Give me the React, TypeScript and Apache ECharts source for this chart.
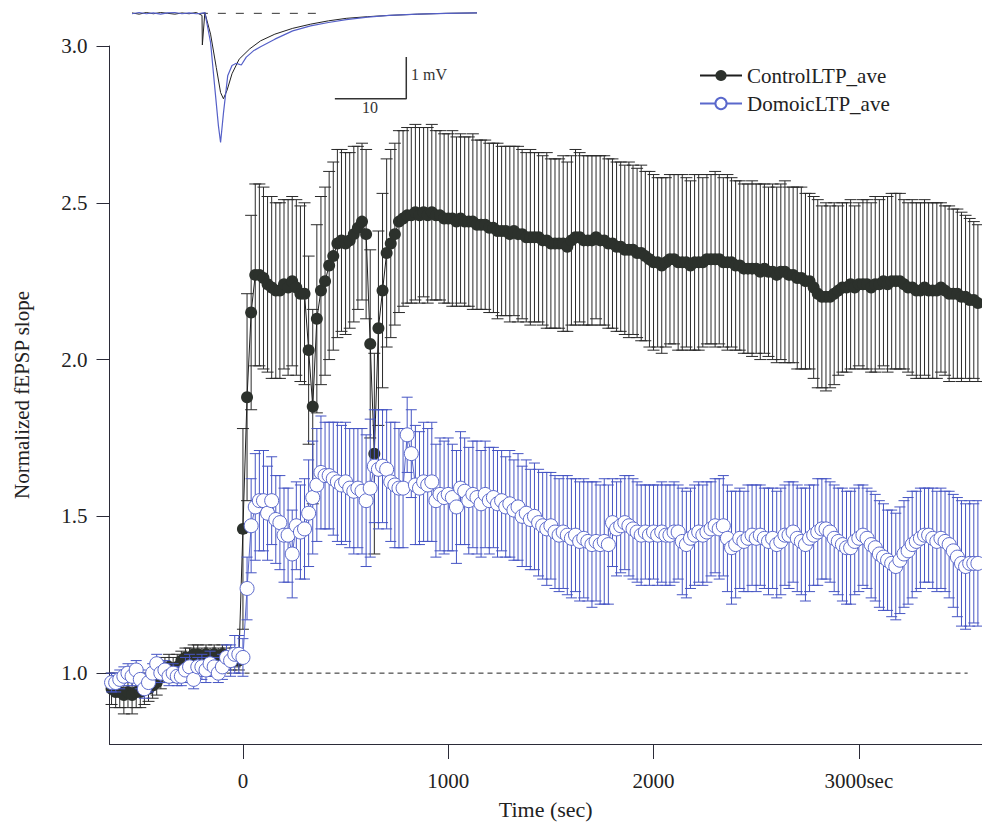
import React, { useEffect, useRef } from "react";
import * as echarts from "echarts";

// ---- sampling grid (sec) ----
const START_T = -640;
const STEP_T = 20;

// ---- ControlLTP_ave ----
const CTRL_BASE_MEAN = [
  0.95, 0.94, 0.94, 0.93, 0.94, 0.93, 0.94, 0.94, 0.95, 0.95,
  0.96, 0.97, 0.99, 1.01, 1.02, 1.01, 1.02, 1.04, 1.05, 1.05,
  1.06, 1.06, 1.05, 1.06, 1.05, 1.06, 1.05, 1.06, 1.05, 1.04,
  1.05, 1.04,
];
const CTRL_BASE_SEM = [
  0.05, 0.05, 0.05, 0.06, 0.05, 0.06, 0.05, 0.05, 0.05, 0.04,
  0.04, 0.04, 0.04, 0.04, 0.04, 0.04, 0.04, 0.03, 0.03, 0.03,
  0.03, 0.03, 0.03, 0.03, 0.03, 0.03, 0.03, 0.03, 0.03, 0.03,
  0.03, 0.03,
];
const CTRL_POST_MEAN = [
  1.46, 1.88, 2.15, 2.27, 2.27, 2.26, 2.24, 2.23, 2.22, 2.22,
  2.24, 2.23, 2.25, 2.23, 2.21, 2.21, 2.03, 1.85, 2.13, 2.22,
  2.25, 2.30, 2.33, 2.37, 2.38, 2.37, 2.38, 2.40, 2.42, 2.44,
  2.40, 2.05, 1.70, 2.10, 2.22, 2.34, 2.37, 2.40, 2.44, 2.45,
  2.46, 2.46, 2.47, 2.46, 2.47, 2.46, 2.47, 2.46, 2.46, 2.45,
  2.45, 2.45, 2.44, 2.45, 2.44, 2.44, 2.44, 2.43, 2.43, 2.43,
  2.42, 2.42, 2.41, 2.41, 2.41, 2.40, 2.41, 2.40, 2.40, 2.39,
  2.39, 2.39, 2.39, 2.38, 2.38, 2.37, 2.37, 2.37, 2.37, 2.36,
  2.38, 2.39, 2.39, 2.38, 2.38, 2.38, 2.39, 2.38, 2.38, 2.37,
  2.37, 2.36, 2.36, 2.35, 2.35, 2.35, 2.34, 2.34, 2.33, 2.32,
  2.31, 2.31, 2.30, 2.31, 2.32, 2.32, 2.31, 2.31, 2.31, 2.30,
  2.31, 2.31, 2.31, 2.32, 2.32, 2.32, 2.32, 2.31, 2.31, 2.31,
  2.30, 2.30, 2.29, 2.29, 2.29, 2.29, 2.28, 2.29, 2.28, 2.28,
  2.27, 2.28, 2.28, 2.27, 2.27, 2.26, 2.26, 2.25, 2.25, 2.23,
  2.21, 2.20, 2.20, 2.20, 2.21, 2.22, 2.23, 2.23, 2.24, 2.23,
  2.24, 2.24, 2.24, 2.23, 2.24, 2.24, 2.25, 2.24, 2.25, 2.25,
  2.25, 2.24, 2.23, 2.23, 2.22, 2.22, 2.23, 2.22, 2.22, 2.22,
  2.23, 2.22, 2.21, 2.21, 2.21, 2.20, 2.20, 2.19, 2.19, 2.18,
];
const CTRL_POST_SEM = [
  0.32, 0.33, 0.31, 0.29, 0.29, 0.29, 0.28, 0.29, 0.28, 0.28,
  0.27, 0.28, 0.27, 0.28, 0.28, 0.29, 0.30, 0.31, 0.30, 0.30,
  0.30, 0.30, 0.30, 0.30, 0.29, 0.29, 0.28, 0.28, 0.26, 0.25,
  0.27, 0.30, 0.32, 0.31, 0.31, 0.30, 0.30, 0.29, 0.29, 0.28,
  0.28, 0.28, 0.28, 0.28, 0.27, 0.28, 0.28, 0.27, 0.27, 0.27,
  0.27, 0.28, 0.27, 0.27, 0.27, 0.27, 0.28, 0.27, 0.27, 0.27,
  0.27, 0.27, 0.28, 0.27, 0.27, 0.28, 0.27, 0.28, 0.27, 0.27,
  0.28, 0.27, 0.27, 0.27, 0.28, 0.27, 0.27, 0.27, 0.28, 0.27,
  0.27, 0.28, 0.27, 0.27, 0.27, 0.27, 0.26, 0.27, 0.27, 0.27,
  0.27, 0.27, 0.27, 0.27, 0.28, 0.27, 0.27, 0.28, 0.27, 0.28,
  0.28, 0.27, 0.28, 0.27, 0.27, 0.27, 0.28, 0.28, 0.27, 0.27,
  0.28, 0.28, 0.27, 0.27, 0.27, 0.28, 0.27, 0.27, 0.28, 0.27,
  0.27, 0.27, 0.27, 0.27, 0.28, 0.27, 0.28, 0.27, 0.27, 0.28,
  0.28, 0.28, 0.29, 0.28, 0.28, 0.29, 0.29, 0.28, 0.28, 0.29,
  0.30, 0.29, 0.30, 0.29, 0.29, 0.27, 0.27, 0.27, 0.27, 0.26,
  0.26, 0.27, 0.27, 0.27, 0.28, 0.27, 0.27, 0.28, 0.28, 0.28,
  0.28, 0.27, 0.27, 0.28, 0.28, 0.28, 0.28, 0.28, 0.28, 0.28,
  0.27, 0.27, 0.28, 0.27, 0.27, 0.27, 0.26, 0.26, 0.25, 0.25,
];

// ---- DomoicLTP_ave ----
const DOM_BASE_MEAN = [
  0.97, 0.97, 0.98, 0.99, 1.00, 0.99, 1.01, 0.98, 0.95, 0.97,
  1.00, 1.03, 1.00, 1.01, 0.99, 1.00, 0.99, 0.99, 1.01, 1.02,
  0.98, 1.02, 1.02, 1.01, 1.03, 1.02, 1.00, 1.02, 1.05, 1.04,
  1.06, 1.06,
];
const DOM_BASE_SEM = [
  0.03, 0.03, 0.03, 0.03, 0.03, 0.03, 0.03, 0.03, 0.03, 0.03,
  0.03, 0.03, 0.03, 0.03, 0.03, 0.03, 0.03, 0.03, 0.04, 0.04,
  0.03, 0.03, 0.04, 0.04, 0.04, 0.03, 0.03, 0.04, 0.04, 0.05,
  0.06, 0.06,
];
const DOM_POST_MEAN = [
  1.05, 1.27, 1.47, 1.53, 1.55, 1.55, 1.51, 1.55, 1.49, 1.48,
  1.44, 1.44, 1.38, 1.47, 1.45, 1.46, 1.51, 1.56, 1.60, 1.64,
  1.63, 1.63, 1.62, 1.61, 1.60, 1.61, 1.59, 1.58, 1.59, 1.58,
  1.55, 1.59, 1.66, 1.65, 1.66, 1.65, 1.61, 1.60, 1.59, 1.59,
  1.76, 1.70, 1.60, 1.59, 1.61, 1.60, 1.61, 1.55, 1.57, 1.56,
  1.57, 1.56, 1.53, 1.59, 1.58, 1.55, 1.57, 1.56, 1.54, 1.57,
  1.55, 1.56, 1.54, 1.55, 1.53, 1.54, 1.52, 1.53, 1.50, 1.51,
  1.49, 1.50, 1.48, 1.47, 1.46, 1.47, 1.45, 1.44, 1.45, 1.44,
  1.43, 1.44, 1.42, 1.43, 1.42, 1.41, 1.42, 1.41, 1.42, 1.41,
  1.48, 1.46, 1.47, 1.48, 1.47, 1.46, 1.45, 1.44, 1.45, 1.44,
  1.45, 1.44, 1.45, 1.44, 1.44, 1.45, 1.45, 1.42, 1.41, 1.43,
  1.44, 1.45, 1.44, 1.45, 1.46, 1.47, 1.46, 1.47, 1.43, 1.40,
  1.41, 1.43, 1.42, 1.43, 1.44, 1.43, 1.44, 1.43, 1.42, 1.43,
  1.41, 1.42, 1.44, 1.44, 1.45, 1.43, 1.42, 1.41, 1.43, 1.44,
  1.45, 1.46, 1.46, 1.45, 1.43, 1.42, 1.41, 1.40, 1.40, 1.42,
  1.43, 1.44, 1.43, 1.41, 1.40, 1.38, 1.37, 1.36, 1.35, 1.34,
  1.36, 1.38, 1.39, 1.41, 1.42, 1.43, 1.44, 1.44, 1.43, 1.42,
  1.43, 1.42, 1.41, 1.39, 1.37, 1.35, 1.34, 1.35, 1.35, 1.35,
];
const DOM_POST_SEM = [
  0.06, 0.10, 0.15, 0.17, 0.16, 0.16, 0.15, 0.14, 0.14, 0.15,
  0.15, 0.15, 0.14, 0.14, 0.15, 0.16, 0.17, 0.18, 0.18, 0.18,
  0.17, 0.17, 0.18, 0.19, 0.19, 0.19, 0.19, 0.20, 0.19, 0.20,
  0.21, 0.22, 0.18, 0.19, 0.18, 0.19, 0.19, 0.20, 0.19, 0.19,
  0.12, 0.14, 0.19, 0.18, 0.19, 0.18, 0.19, 0.18, 0.18, 0.18,
  0.18, 0.17, 0.18, 0.18, 0.17, 0.17, 0.17, 0.18, 0.17, 0.17,
  0.17, 0.16, 0.17, 0.16, 0.16, 0.17, 0.16, 0.17, 0.16, 0.17,
  0.16, 0.17, 0.17, 0.17, 0.18, 0.17, 0.18, 0.18, 0.18, 0.19,
  0.19, 0.18, 0.19, 0.19, 0.19, 0.20, 0.19, 0.19, 0.20, 0.19,
  0.14, 0.15, 0.15, 0.15, 0.16, 0.16, 0.16, 0.16, 0.15, 0.16,
  0.15, 0.16, 0.16, 0.16, 0.16, 0.16, 0.15, 0.17, 0.17, 0.16,
  0.16, 0.16, 0.16, 0.16, 0.15, 0.15, 0.16, 0.16, 0.17, 0.18,
  0.17, 0.16, 0.16, 0.17, 0.16, 0.17, 0.16, 0.16, 0.17, 0.16,
  0.17, 0.17, 0.16, 0.17, 0.16, 0.17, 0.17, 0.18, 0.17, 0.16,
  0.17, 0.16, 0.16, 0.16, 0.17, 0.17, 0.18, 0.18, 0.18, 0.17,
  0.17, 0.16, 0.16, 0.17, 0.17, 0.17, 0.17, 0.16, 0.17, 0.17,
  0.17, 0.17, 0.17, 0.17, 0.16, 0.16, 0.15, 0.15, 0.16, 0.16,
  0.16, 0.16, 0.17, 0.18, 0.19, 0.20, 0.20, 0.20, 0.19, 0.20,
];

const CTRL_MEAN = [...CTRL_BASE_MEAN, ...CTRL_POST_MEAN];
const CTRL_SEM = [...CTRL_BASE_SEM, ...CTRL_POST_SEM];
const DOM_MEAN = [...DOM_BASE_MEAN, ...DOM_POST_MEAN];
const DOM_SEM = [...DOM_BASE_SEM, ...DOM_POST_SEM];
const TIMES = CTRL_MEAN.map((_, i) => START_T + i * STEP_T);

// ---- axes ----
const X_TICKS = [0, 1000, 2000, 3000];
const Y_TICKS = [1.0, 1.5, 2.0, 2.5, 3.0];
const REF_LINE = [[-650, 1], [3530, 1]];

// ---- inset: example fEPSP traces (ms, mV) ----
const INSET_T_CTRL = [0, 1, 2, 3, 4, 5, 6, 7, 8, 9, 9.8, 9.85, 10.2, 11.0, 11.8, 12.4, 12.8, 13.3, 14.0, 15.0, 16.5, 18, 20, 22.5, 25, 27.5, 30, 33, 36, 40, 44, 48.3];
const INSET_V_CTRL = [0.01, -0.02, 0.02, -0.01, 0.02, 0, -0.02, 0.01, -0.01, 0.02, -0.05, -0.76, 0.02, -0.5, -1.3, -1.9, -2.05, -1.85, -1.45, -1.1, -0.85, -0.66, -0.5, -0.36, -0.26, -0.18, -0.12, -0.08, -0.05, -0.02, 0.0, 0.01];
const INSET_T_DOM = [0, 1, 2, 3, 4, 5, 6, 7, 8, 9, 9.7, 10.2, 11.0, 11.6, 12.1, 12.4, 12.8, 13.4, 14.0, 14.6, 15.3, 16.0, 17, 18, 20, 22.5, 25, 27.5, 30, 33, 36, 40, 44, 48.3];
const INSET_V_DOM = [-0.01, 0.02, -0.01, 0.01, -0.02, 0.01, 0.02, -0.01, 0.01, -0.01, 0.0, 0.02, -0.7, -1.8, -2.7, -3.1, -2.4, -1.5, -1.25, -1.2, -1.24, -1.05, -0.9, -0.8, -0.62, -0.42, -0.3, -0.22, -0.15, -0.09, -0.05, -0.02, 0.0, 0.01];
const INSET_BASELINE = [[9.5, 0], [26, 0]];
const SCALE_BAR = [[28.4, -2.05], [38.4, -2.05], [38.4, -1.05]];

const FONT = "'Liberation Serif', 'Times New Roman', serif";
const FS = 21;
const CTRL_COLOR = "#2c312c";
const DOM_COLOR = "#4655c4";
const AXIS_COLOR = "#2b2b38";

function errRender(color: string, hw: number) {
  return (params: any, api: any) => {
    const t = api.value(0);
    const m = api.value(1);
    const e = api.value(2);
    const p1 = api.coord([t, m + e]);
    const p2 = api.coord([t, m - e]);
    const st = { stroke: color, lineWidth: 1 };
    return {
      type: "group",
      children: [
        { type: "line", shape: { x1: p1[0], y1: p1[1], x2: p2[0], y2: p2[1] }, style: st },
        { type: "line", shape: { x1: p1[0] - hw, y1: p1[1], x2: p1[0] + hw, y2: p1[1] }, style: st },
        { type: "line", shape: { x1: p2[0] - hw, y1: p2[1], x2: p2[0] + hw, y2: p2[1] }, style: st },
      ],
    };
  };
}

export default function App() {
  const ref = useRef<HTMLDivElement>(null);
  useEffect(() => {
    document.body.style.margin = "0";
    const chart = echarts.init(ref.current as HTMLDivElement, null, { renderer: "svg" });
    const zip = (xs: number[], ys: number[]) => xs.map((x, i) => [x, ys[i]]);
    const option: any = {
      animation: false,
      backgroundColor: "#ffffff",
      legend: {
        data: [{ name: "ControlLTP_ave" }, { name: "DomoicLTP_ave" }],
        orient: "vertical",
        left: 699,
        top: 65,
        padding: 0,
        itemWidth: 42,
        itemHeight: 14,
        itemGap: 7,
        textStyle: { fontFamily: FONT, fontSize: FS, color: "#222" },
      },
      grid: [
        { left: 109.5, right: 0, top: 46, bottom: 80 },
        { left: 132, width: 345, top: 5, height: 150 },
      ],
      xAxis: [
        {
          type: "value",
          gridIndex: 0,
          min: -650,
          max: 3600,
          axisLine: { show: true, onZero: false, lineStyle: { color: AXIS_COLOR, width: 1 } },
          axisTick: { show: true, length: 15, customValues: X_TICKS, lineStyle: { color: AXIS_COLOR } },
          axisLabel: {
            customValues: X_TICKS,
            formatter: (v: number) => (v === 3000 ? "3000sec" : String(v)),
            margin: 26,
            fontFamily: FONT,
            fontSize: FS,
            color: "#222",
          },
          splitLine: { show: false },
          name: "Time (sec)",
          nameLocation: "middle",
          nameGap: 54,
          nameTextStyle: { fontFamily: FONT, fontSize: 22, color: "#222" },
        },
        { type: "value", gridIndex: 1, min: 0, max: 48.3, show: false },
      ],
      yAxis: [
        {
          type: "value",
          gridIndex: 0,
          min: 0.774,
          max: 3.0,
          axisLine: { show: true, onZero: false, lineStyle: { color: AXIS_COLOR, width: 1 } },
          axisTick: { show: true, length: 13, customValues: Y_TICKS, lineStyle: { color: AXIS_COLOR } },
          axisLabel: {
            customValues: Y_TICKS,
            formatter: (v: number) => v.toFixed(1),
            margin: 22,
            fontFamily: FONT,
            fontSize: FS,
            color: "#222",
          },
          splitLine: { show: false },
          name: "Normalized fEPSP slope",
          nameLocation: "middle",
          nameRotate: 90,
          nameGap: 77,
          nameTextStyle: { fontFamily: FONT, fontSize: FS, color: "#222" },
        },
        { type: "value", gridIndex: 1, min: -3.4, max: 0.2, show: false },
      ],
      series: [
        {
          name: "ref",
          type: "line",
          data: REF_LINE,
          showSymbol: false,
          symbol: "none",
          silent: true,
          lineStyle: { color: "#222", width: 1, type: [5, 4] },
          z: 1,
        },
        {
          name: "ctrlErr",
          type: "custom",
          data: TIMES.map((t, i) => [t, CTRL_MEAN[i], CTRL_SEM[i]]),
          encode: { x: 0, y: 1 },
          renderItem: errRender("#2a2a2a", 6),
          silent: true,
          z: 2,
        },
        {
          name: "ControlLTP_ave",
          type: "line",
          data: zip(TIMES, CTRL_MEAN),
          symbol: "circle",
          symbolSize: 12,
          showAllSymbol: true,
          itemStyle: { color: CTRL_COLOR, borderColor: CTRL_COLOR, borderWidth: 0 },
          lineStyle: { color: "#1e1e1e", width: 1 },
          z: 3,
        },
        {
          name: "domErr",
          type: "custom",
          data: TIMES.map((t, i) => [t, DOM_MEAN[i], DOM_SEM[i]]),
          encode: { x: 0, y: 1 },
          renderItem: errRender(DOM_COLOR, 5.5),
          silent: true,
          z: 4,
        },
        {
          name: "DomoicLTP_ave",
          type: "line",
          data: zip(TIMES, DOM_MEAN),
          symbol: "circle",
          symbolSize: 14,
          showAllSymbol: true,
          itemStyle: { color: "#ffffff", borderColor: "#5a68cc", borderWidth: 1 },
          lineStyle: { color: "#5a68cc", width: 1 },
          z: 5,
        },
        {
          name: "insetBase",
          type: "line",
          xAxisIndex: 1,
          yAxisIndex: 1,
          data: INSET_BASELINE,
          symbol: "none",
          silent: true,
          lineStyle: { color: "#333", width: 1, type: [8, 10] },
        },
        {
          name: "insetCtrl",
          type: "line",
          xAxisIndex: 1,
          yAxisIndex: 1,
          data: zip(INSET_T_CTRL, INSET_V_CTRL),
          symbol: "none",
          silent: true,
          lineStyle: { color: "#222", width: 1 },
        },
        {
          name: "insetDom",
          type: "line",
          xAxisIndex: 1,
          yAxisIndex: 1,
          data: zip(INSET_T_DOM, INSET_V_DOM),
          symbol: "none",
          silent: true,
          lineStyle: { color: "#5560c8", width: 1.2 },
        },
        {
          name: "scaleBar",
          type: "line",
          xAxisIndex: 1,
          yAxisIndex: 1,
          data: SCALE_BAR,
          symbol: "none",
          silent: true,
          lineStyle: { color: "#333", width: 1.5 },
        },
      ],
      graphic: [
        {
          type: "text",
          x: 411,
          y: 74,
          style: { text: "1 mV", font: `16px ${FONT}`, fill: "#333", verticalAlign: "middle" },
        },
        {
          type: "text",
          x: 370,
          y: 107,
          style: { text: "10", font: `16px ${FONT}`, fill: "#333", textAlign: "center", verticalAlign: "middle" },
        },
      ],
    };
    chart.setOption(option);
    return () => chart.dispose();
  }, []);
  return <div ref={ref} style={{ position: "fixed", left: 0, top: 0, width: 982, height: 825 }} />;
}
